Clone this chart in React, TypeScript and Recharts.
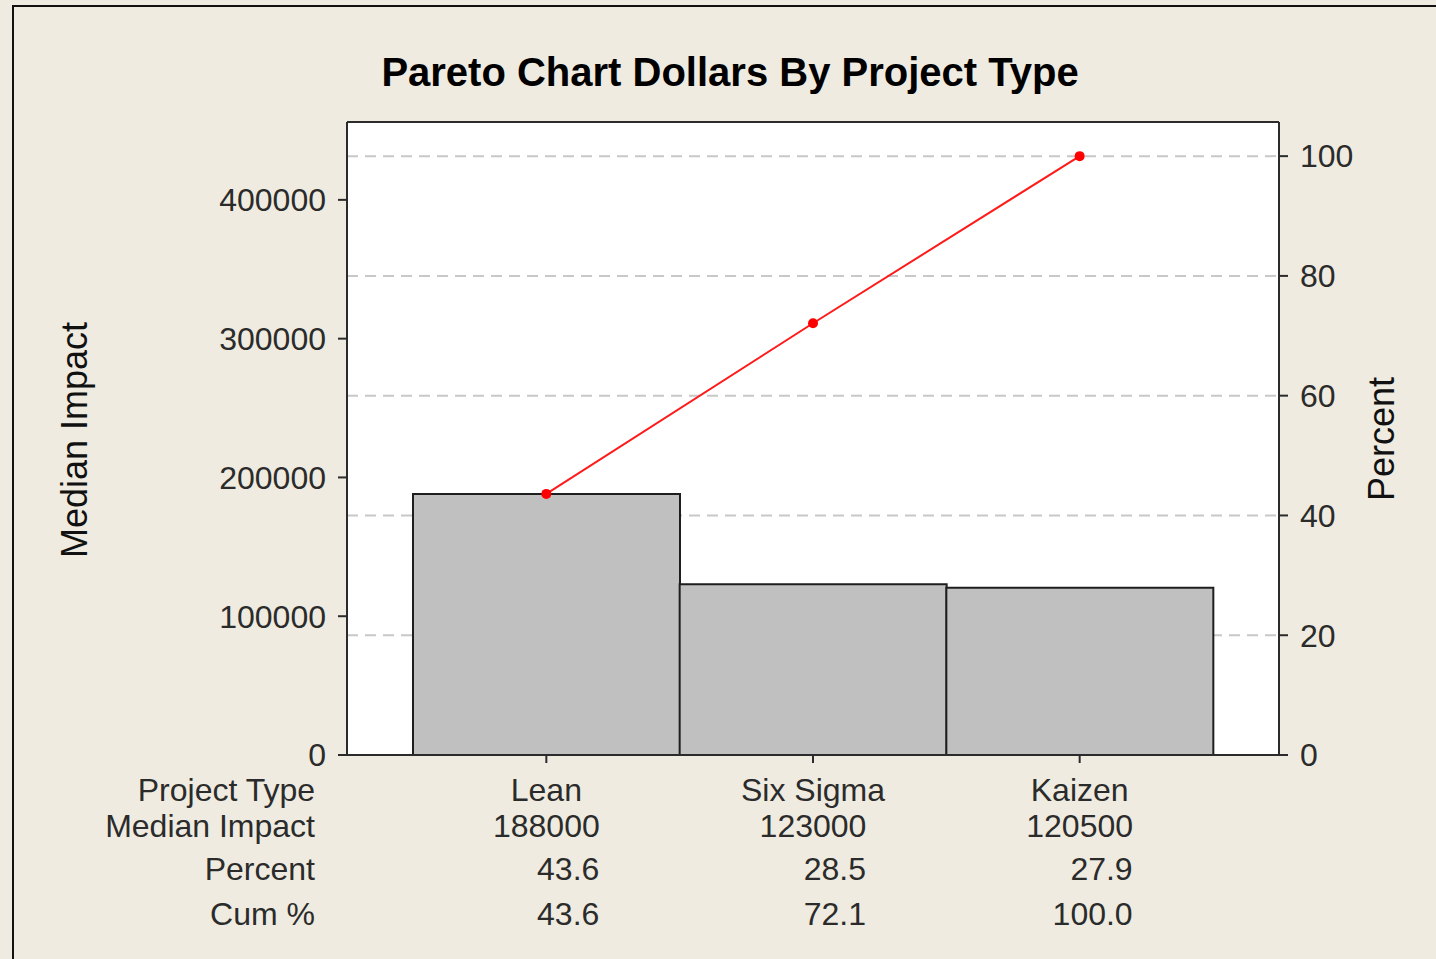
import React from "react";
import {
  ComposedChart,
  Bar,
  Line,
  XAxis,
  YAxis,
  CartesianGrid,
  ReferenceLine,
} from "recharts";

// values
const projectTypes = ["Lean", "Six Sigma", "Kaizen"];
const medianImpact = [188000, 123000, 120500];
const percentShare = [43.6, 28.5, 27.9];
const cumPercent = [43.6, 72.1, 100.0];
const impactTicks = [0, 100000, 200000, 300000, 400000];
const percentTicks = [0, 20, 40, 60, 80, 100];
const rowLabels = ["Project Type", "Median Impact", "Percent", "Cum %"];

const data = projectTypes.map((name, i) => ({
  name,
  impact: medianImpact[i],
  cum: cumPercent[i],
}));

const IMPACT_MAX = 456100;
const FONT = '"Liberation Sans", Arial, sans-serif';
const INK = "#2b2b2b";
const BG = "#efebe0";

// table under the axis, one column per category
const TableTick = (props: any) => {
  const { x, y, payload } = props;
  const i = payload.index;
  const right = x + 53;
  return (
    <g fontFamily={FONT} fontSize={32} fill={INK}>
      <text x={x} y={y + 38} textAnchor="middle" fill={INK}>
        {projectTypes[i]}
      </text>
      <text x={x} y={y + 74} textAnchor="middle" fill={INK}>
        {medianImpact[i]}
      </text>
      <text x={right} y={y + 117} textAnchor="end" fill={INK}>
        {percentShare[i].toFixed(1)}
      </text>
      <text x={right} y={y + 162} textAnchor="end" fill={INK}>
        {cumPercent[i].toFixed(1)}
      </text>
    </g>
  );
};

export default function App() {
  const rowBaselines = [801, 837, 880, 925];
  return (
    <div
      style={{
        position: "absolute",
        left: 0,
        top: 0,
        width: 1436,
        height: 959,
        background: BG,
        overflow: "hidden",
      }}
    >
      <div
        style={{
          position: "absolute",
          left: 12,
          top: 5,
          width: 1500,
          height: 1100,
          border: "2px solid #111",
        }}
      />
      <ComposedChart
        width={1436}
        height={959}
        data={data}
        barCategoryGap={0}
        margin={{ top: 122, right: 37, bottom: 144, left: 227 }}
        style={{ position: "absolute", left: 0, top: 0 }}
      >
        <CartesianGrid
          yAxisId="right"
          vertical={false}
          horizontalValues={percentTicks}
          stroke="#c8c8c8"
          strokeWidth={2}
          strokeDasharray="11 7"
          fill="#ffffff"
          fillOpacity={1}
        />
        <XAxis
          dataKey="name"
          padding={{ left: 66, right: 66 }}
          height={60}
          tickSize={8}
          tickMargin={0}
          axisLine={{ stroke: INK, strokeWidth: 2 }}
          tickLine={{ stroke: INK, strokeWidth: 2 }}
          tick={<TableTick />}
          interval={0}
        />
        <YAxis
          yAxisId="left"
          width={120}
          domain={[0, IMPACT_MAX]}
          ticks={impactTicks}
          allowDataOverflow
          tickSize={9}
          tickMargin={12}
          axisLine={{ stroke: INK, strokeWidth: 2 }}
          tickLine={{ stroke: INK, strokeWidth: 2 }}
          tick={{ fontFamily: FONT, fontSize: 32, fill: INK }}
        />
        <YAxis
          yAxisId="right"
          orientation="right"
          width={120}
          domain={[0, 105.7]}
          ticks={percentTicks}
          allowDataOverflow
          tickSize={9}
          tickMargin={12}
          axisLine={{ stroke: INK, strokeWidth: 2 }}
          tickLine={{ stroke: INK, strokeWidth: 2 }}
          tick={{ fontFamily: FONT, fontSize: 32, fill: INK, textAnchor: "start" }}
        />
        <ReferenceLine
          yAxisId="left"
          y={IMPACT_MAX}
          stroke={INK}
          strokeWidth={2}
          ifOverflow="visible"
        />
        <Bar
          yAxisId="left"
          dataKey="impact"
          fill="#c0c0c0"
          stroke="#1e1e1e"
          strokeWidth={2}
          isAnimationActive={false}
        />
        <Line
          yAxisId="right"
          dataKey="cum"
          type="linear"
          stroke="#ff1a1a"
          strokeWidth={2}
          dot={{ r: 5, fill: "#ff0000", stroke: "#ff0000", strokeWidth: 0 }}
          activeDot={false}
          isAnimationActive={false}
        />
      </ComposedChart>
      <svg
        width={1436}
        height={959}
        style={{ position: "absolute", left: 0, top: 0, pointerEvents: "none" }}
      >
        <text
          x={730}
          y={86}
          textAnchor="middle"
          fontFamily={FONT}
          fontWeight="bold"
          fontSize={40}
          fill="#000"
        >
          Pareto Chart Dollars By Project Type
        </text>
        <text
          transform="translate(87,440) rotate(-90)"
          textAnchor="middle"
          fontFamily={FONT}
          fontSize={36}
          fill="#111"
        >
          Median Impact
        </text>
        <text
          transform="translate(1394,439) rotate(-90)"
          textAnchor="middle"
          fontFamily={FONT}
          fontSize={36}
          fill="#111"
        >
          Percent
        </text>
        {rowLabels.map((label, i) => (
          <text
            key={label}
            x={315}
            y={rowBaselines[i]}
            textAnchor="end"
            fontFamily={FONT}
            fontSize={32}
            fill={INK}
          >
            {label}
          </text>
        ))}
      </svg>
    </div>
  );
}
